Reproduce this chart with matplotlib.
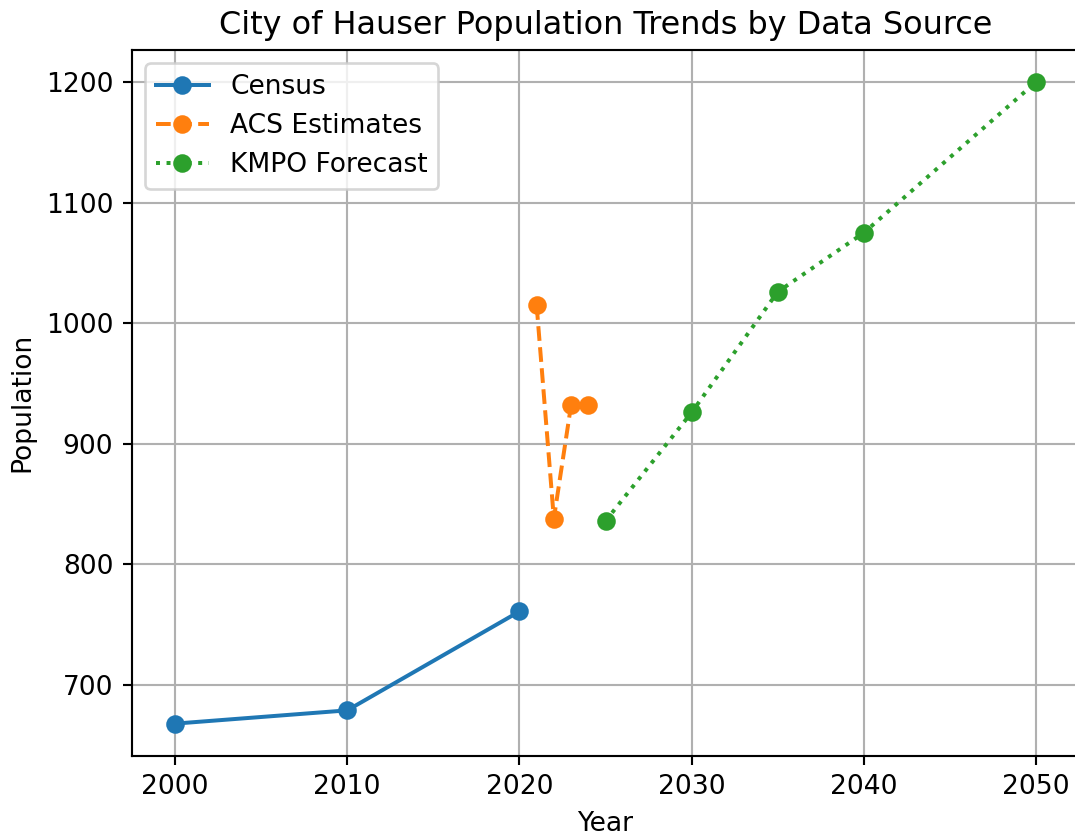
import matplotlib
matplotlib.use("Agg")
import matplotlib.pyplot as plt

# Census counts
census_years = [2000, 2010, 2020]
census_pop = [668, 679, 761]

# ACS estimates
acs_years = [2021, 2022, 2023, 2024]
acs_pop = [1015, 838, 932, 932]

# KMPO forecast
kmpo_years = [2025, 2030, 2035, 2040, 2050]
kmpo_pop = [836, 926, 1026, 1075, 1200]

dpi = 191
fig = plt.figure(figsize=(1075 / dpi, 837 / dpi), dpi=dpi)
ax = fig.add_axes([132 / 1075, (837 - 755.7) / 837, 947 / 1075, (755.7 - 50) / 837])

ax.plot(census_years, census_pop, marker='o', linestyle='-', label='Census')
ax.plot(acs_years, acs_pop, marker='o', linestyle='--', label='ACS Estimates')
ax.plot(kmpo_years, kmpo_pop, marker='o', linestyle=':', label='KMPO Forecast')

ax.set_title('City of Hauser Population Trends by Data Source')
ax.set_xlabel('Year')
ax.set_ylabel('Population')
ax.grid(True)
ax.legend(loc='upper left')

fig.savefig('out.png', dpi=dpi)
